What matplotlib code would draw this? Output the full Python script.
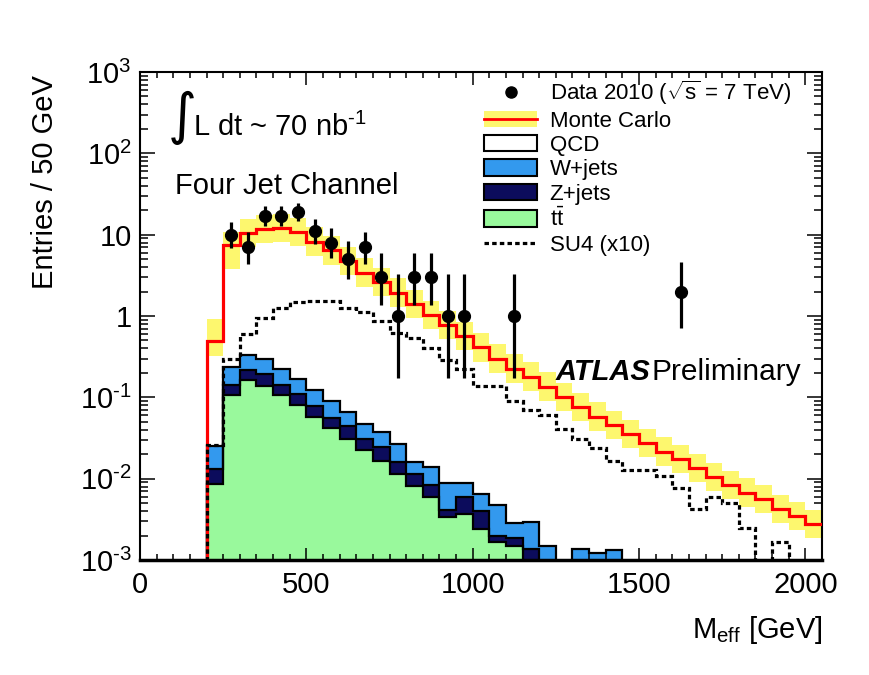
import numpy as np
import matplotlib
matplotlib.use("Agg")
import matplotlib.pyplot as plt
from matplotlib.patches import Patch
from matplotlib.lines import Line2D
from matplotlib.ticker import FixedLocator, FuncFormatter, LogLocator, NullFormatter, MultipleLocator

plt.rcParams['font.family'] = ['Liberation Sans', 'DejaVu Sans']
plt.rcParams['mathtext.fontset'] = 'custom'
plt.rcParams['mathtext.rm'] = 'Liberation Sans'
plt.rcParams['mathtext.it'] = 'Liberation Sans:italic'
plt.rcParams['mathtext.bf'] = 'Liberation Sans:bold'
plt.rcParams['axes.unicode_minus'] = False

# ---------------- data (50 GeV bins, lower edges 0 ... 2000) ----------------
bin_lo = np.arange(0, 2050, 50)
bin_width = 50

mc_total = [0, 0, 0, 0,
            0.49, 7.4, 10.5, 11.7, 12.0, 10.8, 8.2, 6.4, 4.7, 3.4,
            2.6, 1.93, 1.4, 1.02, 0.77, 0.57, 0.41, 0.30, 0.225, 0.179,
            0.135, 0.100, 0.076, 0.058, 0.0456, 0.0353, 0.0275, 0.0214, 0.0175, 0.0134,
            0.0104, 0.0084, 0.0067, 0.0056, 0.00425, 0.00345, 0.00278]

mc_unc_up = [0, 0, 0, 0,
             0.86, 0.45] + [0.5] * 35
mc_unc_dn = [0, 0, 0, 0,
             0.35, 0.49] + [0.33] * 35

ttbar = [0, 0, 0, 0,
         0.0086, 0.106, 0.164, 0.138, 0.106, 0.080, 0.058, 0.0415, 0.0307, 0.0227,
         0.0166, 0.0114, 0.0081, 0.0059, 0.00336, 0.0037, 0.0024, 0.00166, 0.0015, 0,
         0, 0, 0, 0, 0, 0, 0, 0, 0, 0,
         0, 0, 0, 0, 0, 0, 0]

zjets = [0, 0, 0, 0,
         0.0045, 0.035, 0.053, 0.055, 0.036, 0.029, 0.021, 0.015, 0.014, 0.008,
         0.0077, 0.0045, 0.0033, 0.0025, 0.0008, 0.0022, 0.0016, 0.00034, 0.00036, 0.00137,
         0, 0, 0, 0, 0, 0, 0, 0, 0, 0,
         0, 0, 0, 0, 0, 0, 0]

wjets = [0, 0, 0, 0,
         0.0119, 0.092, 0.115, 0.101, 0.084, 0.058, 0.045, 0.034, 0.0217, 0.0162,
         0.0134, 0.0108, 0.0045, 0.0054, 0.0048, 0.003, 0.0024, 0.0027, 0.001, 0.0016,
         0.0015, 0, 0.00137, 0.00122, 0.00131, 0, 0, 0, 0, 0,
         0, 0, 0, 0, 0, 0, 0]

su4_x10 = [0, 0, 0, 0,
           0.026, 0.30, 0.60, 0.95, 1.27, 1.48, 1.55, 1.55, 1.27, 1.13,
           0.87, 0.61, 0.53, 0.40, 0.29, 0.22, 0.137, 0.137, 0.091, 0.070,
           0.060, 0.041, 0.031, 0.024, 0.0166, 0.0128, 0.0128, 0.0109, 0.0076, 0.00425,
           0.0059, 0.0050, 0.0025, 0, 0.00166, 0, 0]

data_m = [275, 325, 375, 425, 475, 525, 575, 625, 675, 725, 775, 825, 875, 925, 975, 1125, 1625]
data_n = [10, 7, 17, 17, 19, 11, 8, 5, 7, 3, 1, 3, 3, 1, 1, 1, 2]
data_lo = [6.89, 4.42, 12.9, 12.9, 14.7, 7.73, 5.23, 2.84, 4.42, 1.37, 0.173, 1.37, 1.37, 0.173, 0.173, 0.173, 0.708]
data_hi = [14.27, 10.77, 22.2, 22.2, 24.4, 15.42, 11.95, 8.38, 10.77, 5.92, 3.30, 5.92, 5.92, 3.30, 3.30, 3.30, 4.64]

# ---------------- styling ----------------
c_yellow = '#fdf76e'
c_red = '#ff0000'
c_blue = '#3399ee'
c_navy = '#0c0c5c'
c_green = '#99f99c'

W, H = 869, 675
fig = plt.figure(figsize=(W / 100, H / 100), dpi=100)
ax = fig.add_axes([140 / W, 1 - 560 / H, (822 - 140) / W, (560 - 72) / H])

edges = np.append(bin_lo, bin_lo[-1] + bin_width).astype(float)
tiny = 1e-9


def pos(a):
    a = np.asarray(a, dtype=float)
    return np.where(a > 0, a, tiny)


tot = np.asarray(mc_total, float)
tt = np.asarray(ttbar, float)
zz = np.asarray(zjets, float)
ww = np.asarray(wjets, float)

cum_tt = tt
cum_z = tt + zz
cum_w = tt + zz + ww

# stack: QCD (white, up to total), W, Z, ttbar
for vals, col in [(tot, 'white'), (cum_w, c_blue), (cum_z, c_navy), (cum_tt, c_green)]:
    ax.stairs(pos(vals), edges, baseline=tiny, fill=True, color=col, zorder=1)
for vals in [cum_w, cum_z, cum_tt]:
    ax.stairs(pos(vals), edges, baseline=None, color='black', lw=1.6, zorder=1.5)

# MC uncertainty band
band_hi = tot * (1 + np.asarray(mc_unc_up))
band_lo = tot * (1 - np.asarray(mc_unc_dn))
ax.stairs(pos(band_hi), edges, baseline=pos(band_lo), fill=True, color=c_yellow, lw=0, zorder=2)

# MC total line
ax.stairs(pos(tot), edges, baseline=None, color=c_red, lw=2.3, zorder=3)

# SU4 x10
ax.stairs(pos(su4_x10), edges, baseline=None, color='black', lw=2.3,
          linestyle=(0, (1.4, 1.0)), zorder=3.5)

# data
dn = np.asarray(data_n, float)
yerr = [dn - np.asarray(data_lo), np.asarray(data_hi) - dn]
ax.errorbar(data_m, dn, yerr=yerr, fmt='o', color='black', ms=8.5, elinewidth=2.3,
            capsize=0, zorder=5)

# ---------------- axes ----------------
ax.set_yscale('log')
ax.set_xlim(0, 2050)
ax.set_ylim(1e-3, 1e3)

ax.xaxis.set_major_locator(FixedLocator([0, 500, 1000, 1500, 2000]))
ax.xaxis.set_minor_locator(MultipleLocator(50))
ax.yaxis.set_major_locator(LogLocator(base=10, numticks=20))
ax.yaxis.set_minor_locator(LogLocator(base=10, subs=np.arange(2, 10), numticks=20))
ax.yaxis.set_minor_formatter(NullFormatter())

HY = '\u2010'


def yfmt(v, _):
    e = int(round(np.log10(v)))
    if e == 0:
        return '1'
    if e == 1:
        return '10'
    if e < 0:
        return r'$\mathregular{10^{%s%d}}$' % (HY, -e)
    return r'$\mathregular{10^{%d}}$' % e


ax.yaxis.set_major_formatter(FuncFormatter(yfmt))

ax.tick_params(which='both', direction='in', top=True, right=True, labelsize=21, width=1.1)
ax.tick_params(axis='x', which='major', length=9, pad=8)
ax.tick_params(axis='x', which='minor', length=4.5)
ax.tick_params(axis='y', which='major', length=11, pad=6)
ax.tick_params(axis='y', which='minor', length=5.5)
for s in ax.spines.values():
    s.set_linewidth(1.5)
ax.spines['bottom'].set_linewidth(2.5)

fig.text(45 / W, 1 - 75 / H, 'Entries / 50 GeV', rotation=90, ha='center', va='top', fontsize=21)
fig.text(822 / W, 1 - 630 / H, r'M$_{\mathregular{eff}}$ [GeV]', ha='right', va='center', fontsize=21)

fig.text(168 / W, 1 - 118 / H, '\u222b', ha='left', va='center', fontsize=40, family=['DejaVu Sans'])
fig.text(193 / W, 1 - 127 / H, r'L dt ~ 70 nb$^{\mathregular{%s1}}$' % HY, ha='left', va='center', fontsize=21)
fig.text(175 / W, 1 - 186 / H, 'Four Jet Channel', ha='left', va='center', fontsize=21)

fig.text(556 / W, 1 - 372 / H, 'ATLAS', ha='left', va='center', fontsize=21,
         fontweight='bold', fontstyle='italic')
fig.text(652 / W, 1 - 372 / H, 'Preliminary', ha='left', va='center', fontsize=21.5)

handles = [
    Line2D([], [], marker='o', color='black', linestyle='none', markersize=8),
    (Patch(facecolor=c_yellow, edgecolor='none'), Line2D([], [], color=c_red, lw=2)),
    Patch(facecolor='white', edgecolor='black', lw=1.5),
    Patch(facecolor=c_blue, edgecolor='black', lw=1.5),
    Patch(facecolor=c_navy, edgecolor='black', lw=1.5),
    Patch(facecolor=c_green, edgecolor='black', lw=1.5),
    Line2D([], [], color='black', lw=2.3, linestyle=(0, (1.4, 1.0))),
]
labels = [r'Data 2010 ($\mathregular{\sqrt{s}}$ = 7 TeV)', 'Monte Carlo', 'QCD', 'W+jets', 'Z+jets',
          r'$\mathregular{t\bar{t}}$', 'SU4 (x10)']
fig.legend(handles, labels, loc='upper left', bbox_to_anchor=(484 / W, 1 - 79 / H),
           frameon=False, fontsize=16, borderpad=0, borderaxespad=0,
           handlelength=2.4, handleheight=0.75, handletextpad=0.55, labelspacing=0.15)

fig.savefig('out.png', dpi=100)
